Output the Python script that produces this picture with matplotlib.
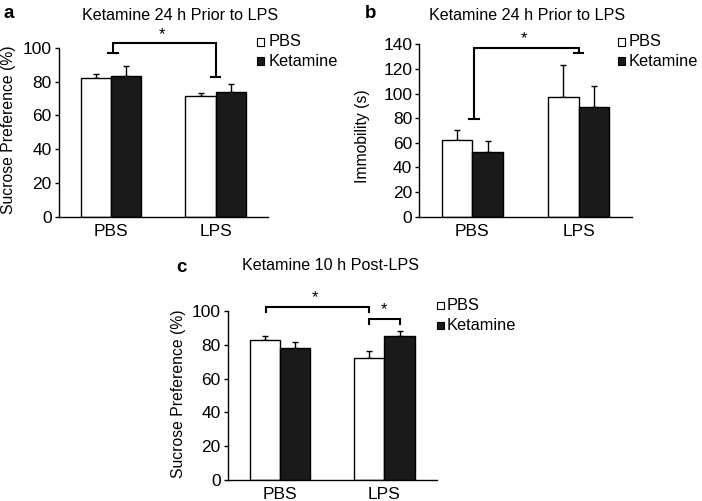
import matplotlib
matplotlib.use("Agg")
import matplotlib.pyplot as plt
from matplotlib.patches import Rectangle
import numpy as np

plt.rcParams['font.family'] = ['Liberation Sans', 'DejaVu Sans']

groups = ["PBS", "LPS"]
series = ["PBS", "Ketamine"]

a_pbs = [82, 71.5]
a_pbs_err = [2.5, 1.5]
a_ket = [83, 74]
a_ket_err = [6, 4.5]

b_pbs = [62, 97]
b_pbs_err = [8.5, 26]
b_ket = [52.5, 89]
b_ket_err = [9, 17.5]

c_pbs = [83, 72]
c_pbs_err = [2, 4.5]
c_ket = [78, 85.5]
c_ket_err = [3.5, 2.5]

W, H = 702, 501
fig = plt.figure(figsize=(W / 100, H / 100), dpi=100)

def px_axes(left, right, bottom, top):
    return fig.add_axes([left / W, 1 - bottom / H, (right - left) / W, (bottom - top) / H])

BW = 0.29
FS = 12.5
TFS = 11.6
BLACK = '#1a1a1a'

def draw(ax, pbs, pbs_err, ket, ket_err, ymax, step):
    x = np.arange(len(groups))
    ax.bar(x - BW / 2, pbs, BW, color='white', edgecolor='black', linewidth=1.0, zorder=2)
    ax.bar(x + BW / 2, ket, BW, color=BLACK, edgecolor='black', linewidth=1.0, zorder=2)
    ax.errorbar(x - BW / 2, pbs, yerr=[np.zeros(len(pbs)), pbs_err], fmt='none',
                ecolor='black', elinewidth=1.0, capsize=2.2, capthick=1.0, zorder=1)
    ax.errorbar(x + BW / 2, ket, yerr=[np.zeros(len(ket)), ket_err], fmt='none',
                ecolor='black', elinewidth=1.0, capsize=2.2, capthick=1.0, zorder=1)
    ax.set_xlim(-0.5, 1.5)
    ax.set_ylim(0, ymax)
    ax.set_yticks(np.arange(0, ymax + 1, step))
    ax.set_xticks(x)
    ax.set_xticklabels(groups, fontsize=FS)
    ax.tick_params(axis='x', length=0, pad=5)
    ax.tick_params(axis='y', length=3, width=1, pad=2, labelsize=FS)
    for s in ['top', 'right']:
        ax.spines[s].set_visible(False)
    for s in ['left', 'bottom']:
        ax.spines[s].set_linewidth(1.0)

def bracket(ax, x1, x2, y1, ytop, y2, caps=True, cw=0.045):
    ax.plot([x1, x1, x2, x2], [y1, ytop, ytop, y2], color='black', lw=1.5,
            clip_on=False, solid_joinstyle='miter')
    if caps:
        ax.plot([x1 - cw, x1 + cw], [y1, y1], color='black', lw=1.5, clip_on=False)
        ax.plot([x2 - cw, x2 + cw], [y2, y2], color='black', lw=1.5, clip_on=False)

# Panel a
axa = px_axes(58.7, 268, 216.7, 47.7)
draw(axa, a_pbs, a_pbs_err, a_ket, a_ket_err, 100, 20)
bracket(axa, 0.02, 1.0, 97, 102.6, 82.5)
axa.text(0.49, 103.5, '*', ha='center', va='bottom', fontsize=12)

# Panel b
axb = px_axes(419.3, 631.7, 216.7, 44.3)
draw(axb, b_pbs, b_pbs_err, b_ket, b_ket_err, 140, 20)
bracket(axb, 0.015, 1.0, 79.4, 136.8, 132.7)
axb.text(0.49, 138.5, '*', ha='center', va='bottom', fontsize=12)

# Panel c
axc = px_axes(227.7, 436.7, 480, 311)
draw(axc, c_pbs, c_pbs_err, c_ket, c_ket_err, 100, 20)
bracket(axc, -0.13, 0.85, 99.2, 102.2, 99.2, caps=False)
bracket(axc, 0.85, 1.15, 92.3, 95.3, 92.3, caps=False)
axc.text(0.34, 103.5, '*', ha='center', va='bottom', fontsize=12)
axc.text(1.0, 96.5, '*', ha='center', va='bottom', fontsize=12)

def ftext(x, y, s, **kw):
    fig.text(x / W, 1 - y / H, s, **kw)

# Titles and panel letters
ftext(180, 15, 'Ketamine 24 h Prior to LPS', ha='center', va='center', fontsize=TFS)
ftext(527, 15, 'Ketamine 24 h Prior to LPS', ha='center', va='center', fontsize=TFS)
ftext(331, 265, 'Ketamine 10 h Post-LPS', ha='center', va='center', fontsize=TFS)
ftext(3, 14, 'a', ha='left', va='center', fontsize=13.5, fontweight='bold')
ftext(365, 14, 'b', ha='left', va='center', fontsize=13.5, fontweight='bold')
ftext(176, 267, 'c', ha='left', va='center', fontsize=13.5, fontweight='bold')

# Y labels
ftext(9, 130, 'Sucrose Preference (%)', rotation=90, ha='center', va='center', fontsize=11.3)
ftext(362, 136, 'Immobility (s)', rotation=90, ha='center', va='center', fontsize=11.3)
ftext(178, 394, 'Sucrose Preference (%)', rotation=90, ha='center', va='center', fontsize=11.3)

# Legends
def legend(xsq, xtxt, ys):
    for y, name, col in zip(ys, series, ['white', BLACK]):
        fig.patches.append(Rectangle((xsq / W, 1 - (y + 3.5) / H), 7 / W, 7 / H,
                                     transform=fig.transFigure, facecolor=col,
                                     edgecolor='black', linewidth=0.8))
        ftext(xtxt, y, name, ha='left', va='center', fontsize=11.8)

legend(257, 269, [42, 61])
legend(618, 629, [42, 61])
legend(437, 447, [305, 325])

fig.savefig('out.png', dpi=100)
